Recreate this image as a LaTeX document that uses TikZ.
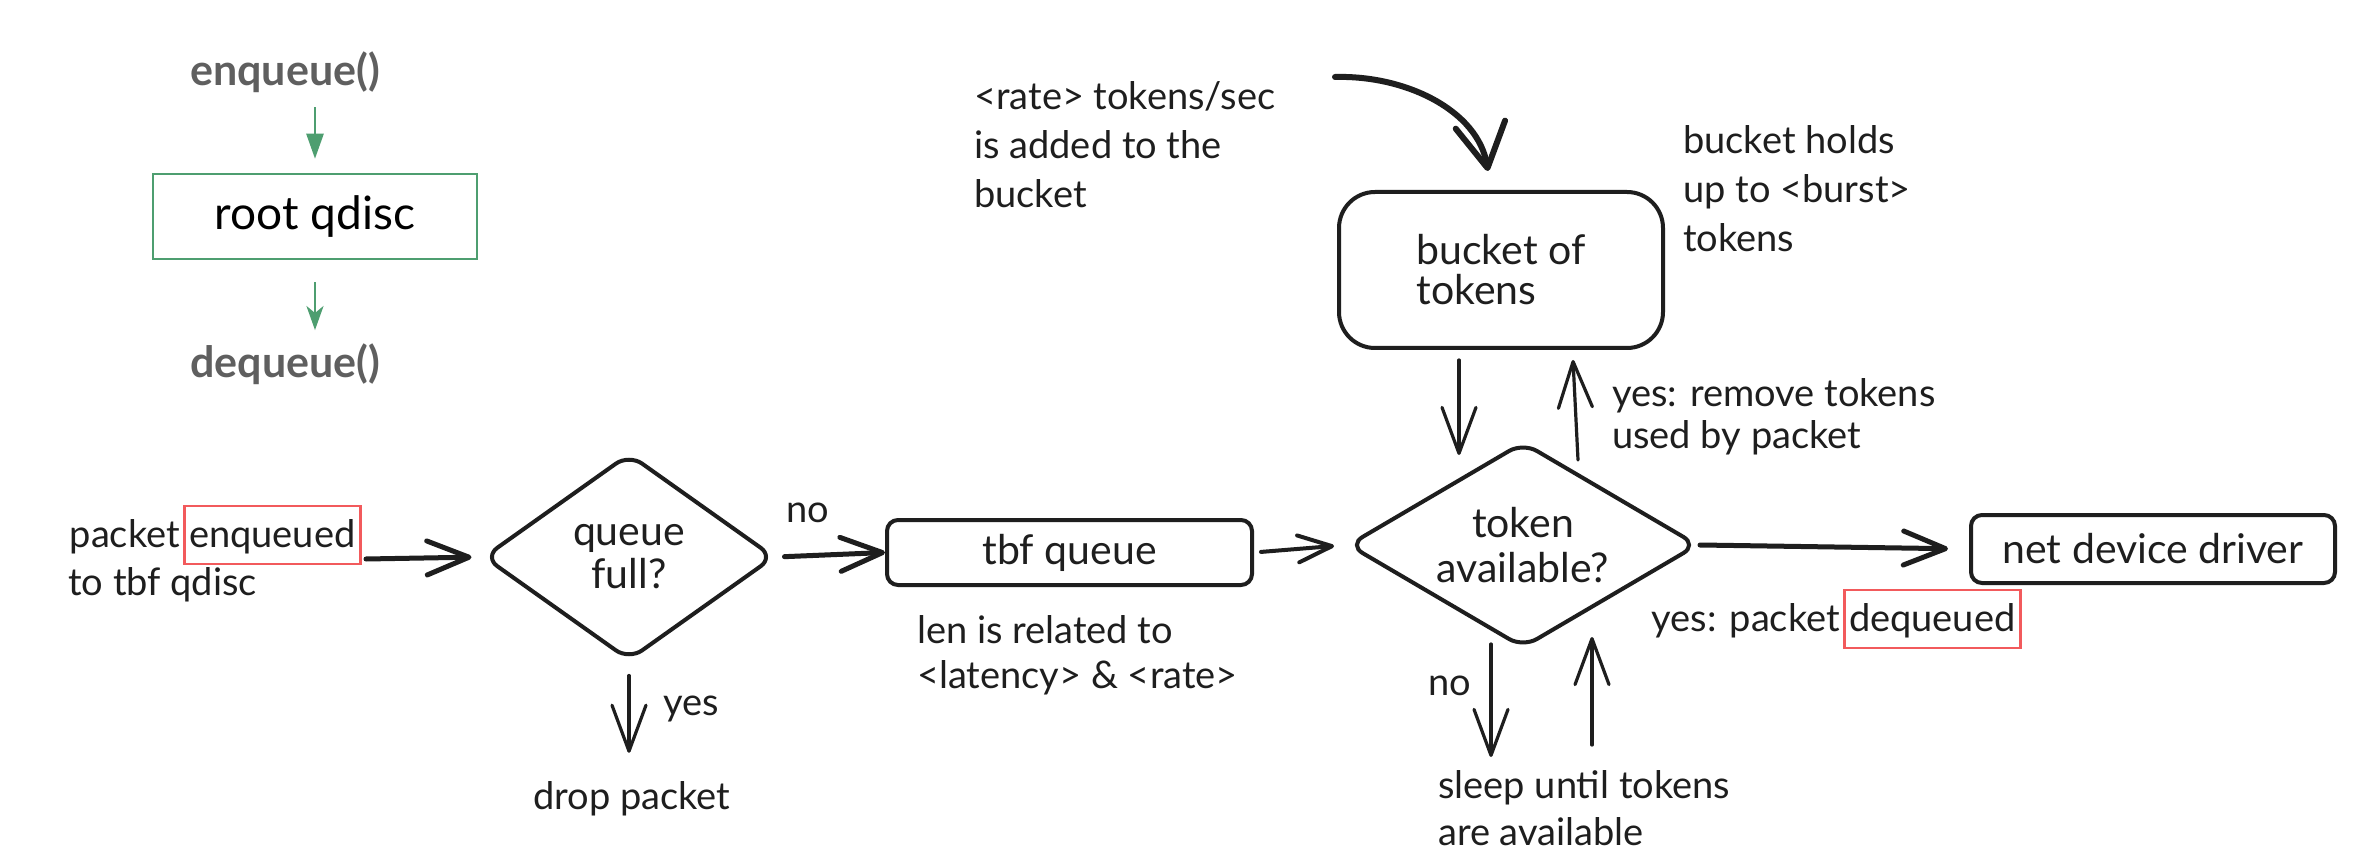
\documentclass[tikz,border=0pt]{standalone}
\usepackage{fontspec}
\setmainfont{Lato}
\usetikzlibrary{arrows.meta,shapes.geometric,calc}
\definecolor{ink}{HTML}{1E1E1E}
\definecolor{gtxt}{HTML}{5F5F5F}
\definecolor{grn}{HTML}{4E9E70}
\definecolor{redb}{HTML}{F25A5C}
\begin{document}
\begin{tikzpicture}[x=1pt,y=-1pt,
  lbl/.style={font=\fontsize{38}{48}\selectfont, text=ink, inner sep=0pt},
  hand/.style={font=\fontsize{41}{43}\selectfont, text=ink},
  fn/.style={font=\fontsize{43}{50}\selectfont\bfseries, text=gtxt, inner sep=0pt},
  redbox/.style={lbl, draw=redb, line width=2.5pt, text height=41pt, text depth=17pt, minimum width=176pt},
  boxr/.style={draw=ink, line width=4pt, rounded corners=11pt, inner sep=0pt, hand},
  diam/.style={diamond, draw=ink, line width=4pt, rounded corners=16pt, inner sep=0pt, hand, align=center},
  garrA/.style={draw=grn, line width=2.5pt, -{Triangle[length=25pt,width=17pt]}},
  garrB/.style={draw=grn, line width=2.5pt, -{Stealth[length=24pt,width=17pt,inset=7pt]}},
  thickarr/.style={draw=ink, line width=5pt, line cap=round, -{Straight Barb[length=42pt,width=34pt,line width=5pt,round]}},
  medarr/.style={draw=ink, line width=4pt, line cap=round, -{Straight Barb[length=34pt,width=27pt,line width=4pt,round]}},
  thinarr/.style={draw=ink, line width=3.2pt, line cap=round, -{Straight Barb[length=46pt,width=34pt,line width=3.2pt,round]}},
  curvarr/.style={draw=ink, line width=6pt, line cap=round, -{Straight Barb[length=44pt,width=50pt,line width=6pt,round]}}
]
\fill[white] (0,0) rectangle (2370,866);
\useasboundingbox (0,0) rectangle (2370,866);

% ---- root qdisc legend
\node[fn, anchor=base west] (enq) at (190,86) {enqueue()};
\node[draw=grn, line width=2.5pt, minimum width=324pt, minimum height=85pt, inner sep=0pt,
      font=\fontsize{46}{50}\selectfont, text=black] (root) at (315,216.5) {root qdisc};
\node[fn, anchor=base west] (deq) at (190,378) {dequeue()};
\draw[garrA] ($(enq.south -| root.north)+(0,14)$) -- ([yshift=14pt]root.north);
\draw[garrB] ([yshift=-22pt]root.south) -- ($(deq.north -| root.south)+(0,-14)$);

% ---- input text
\node[lbl, anchor=base east] (pkt) at (180,547) {packet};
\node[redbox, anchor=base west] (enqd) at (183,547) {enqueued};
\node[lbl, anchor=base west] (totbf) at (68,595) {to tbf qdisc};
\coordinate (in1) at (366,559);

% ---- shapes
\node[diam, aspect=1.4, minimum width=291pt, minimum height=207pt] (qf) at (629,557) {queue\\full?};
\node[boxr, minimum width=365pt, minimum height=65pt] (tbf) at (1069.5,552.5) {tbf queue};
\node[diam, aspect=1.7, minimum width=350pt, minimum height=206pt, font=\fontsize{41}{45}\selectfont] (tok) at (1523,545) {token\\available?};
\node[boxr, minimum width=364pt, minimum height=68pt] (ndd) at (2153,549) {net device driver};
\node[boxr, rounded corners=36pt, minimum width=324pt, minimum height=156pt, align=left,
      font=\fontsize{41}{40}\selectfont] (bkt) at (1501,270) {bucket of\\tokens};

% ---- labels (multi-line nodes: base = last line's baseline)
\node[lbl, anchor=base west] (no1) at (786,522) {no};
\node[lbl, anchor=base west] (yes1) at (663,715) {yes};
\node[lbl, anchor=base west] (drop) at (533,809) {drop packet};
\node[lbl, anchor=base west, align=left, font=\fontsize{38}{45}\selectfont] (len) at (917,688) {len is related to\\<latency> \& <rate>};
\node[lbl, anchor=base west, align=left, font=\fontsize{38}{49}\selectfont] (rate) at (974,208) {<rate> tokens/sec\\is added to the\\bucket};
\node[lbl, anchor=base west, align=left, font=\fontsize{38}{49}\selectfont] (holds) at (1683,252) {bucket holds\\up to <burst>\\tokens};
\node[lbl, anchor=base west, align=left, font=\fontsize{38}{43}\selectfont] (rem) at (1612,449) {yes: remove tokens\\used by packet};
\node[lbl, anchor=base west] (no2) at (1428,695) {no};
\node[lbl, anchor=base west, align=left, font=\fontsize{38}{47}\selectfont] (sleep) at (1438,845) {sleep until tokens\\are available};
\node[lbl, anchor=base east] (yesp) at (1840,631) {yes: packet};
\node[redbox, anchor=base west] (deqd) at (1843,631) {dequeued};
\coordinate (rsrc) at (1335,77);

% ---- connectors
\draw[thickarr, shorten >=10pt] (in1) -- (qf.west);
\draw[thickarr, shorten <=8pt] (qf.east) -- (tbf.west);
\draw[thinarr, shorten <=13pt, shorten >=28pt] (qf.south) -- (qf.south |- drop.north);
\draw[medarr, shorten <=7pt, shorten >=12pt] (tbf.east) -- (tok.west);
\draw[thickarr, shorten >=21pt] (tok.east) -- (ndd.west);
\draw[thinarr] ([xshift=-42pt,yshift=-10pt]bkt.south) -- ([xshift=-64pt,yshift=-15pt]tok.north);
\draw[thinarr] ([xshift=55pt,yshift=-20pt]tok.north) -- ([xshift=72pt,yshift=-10pt]bkt.south);
\draw[thinarr] ([xshift=-32pt,yshift=6pt]tok.south) -- ([xshift=-32pt,yshift=-107pt]tok.south);
\draw[thinarr] ([xshift=69pt,yshift=-95pt]tok.south) -- ([xshift=69pt,yshift=13pt]tok.south);
\draw[curvarr] (rsrc) .. controls (1405,75) and (1478,110) .. ([xshift=-13pt,yshift=19pt]bkt.north);
\end{tikzpicture}
\end{document}
